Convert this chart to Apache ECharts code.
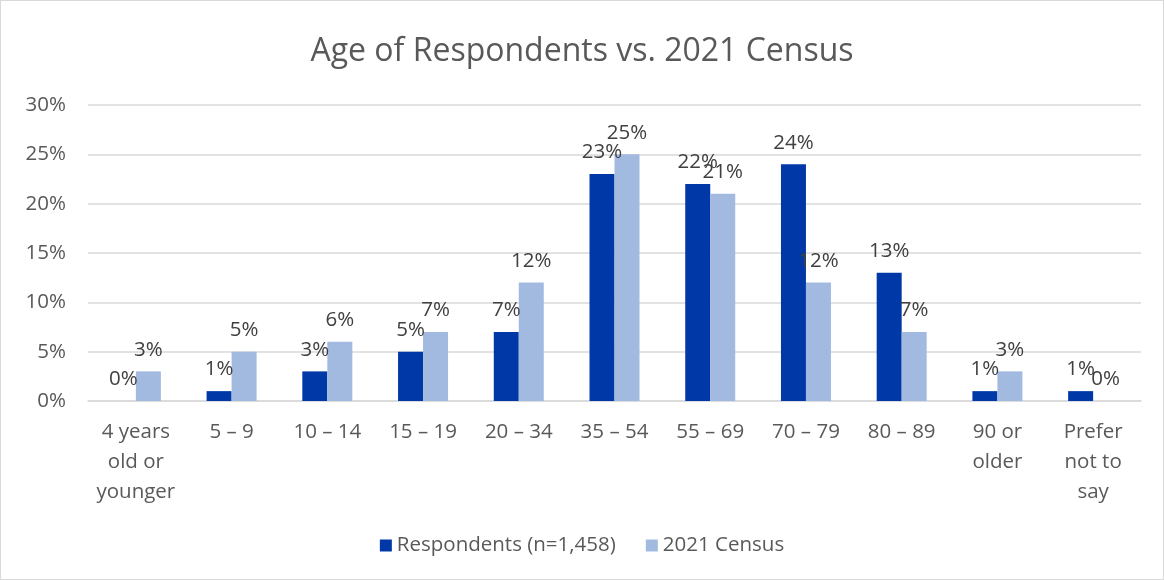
<!DOCTYPE html>
<html>
<head>
<meta charset="utf-8">
<script src="https://cdn.jsdelivr.net/npm/echarts@6/dist/echarts.min.js"></script>
<style>
  html, body { margin: 0; padding: 0; background: #fff; }
  #chart { width: 1164px; height: 580px; box-sizing: border-box; border: 1px solid #d9d9d9; }
</style>
</head>
<body>
<div id="chart"></div>
<script>
// chart data
var categories = ['4 years\nold or\nyounger', '5 – 9', '10 – 14', '15 – 19', '20 – 34', '35 – 54', '55 – 69', '70 – 79', '80 – 89', '90 or\nolder', 'Prefer\nnot to\nsay']
var respondents = [0, 1, 3, 5, 7, 23, 22, 24, 13, 1, 1]
var census = [3, 5, 6, 7, 12, 25, 21, 12, 7, 3, 0]
var seriesNames = ['Respondents (n=1,458)', '2021 Census']

var chart = echarts.init(document.getElementById('chart'))

var labelStyle = {
  show: true,
  position: 'top',
  distance: 11,
  color: '#404040',
  fontSize: 20.5,
  fontFamily: 'Open Sans',
  formatter: '{c}%'
}

chart.setOption({
  animation: false,
  textStyle: { fontFamily: 'Open Sans' },
  title: {
    text: 'Age of Respondents vs. 2021 Census',
    left: 'center',
    top: 30,
    textStyle: {
      color: '#595959',
      fontSize: 32,
      fontWeight: 'normal',
      fontFamily: 'Open Sans'
    }
  },
  legend: {
    bottom: 18,
    left: 'center',
    itemWidth: 12,
    itemHeight: 12,
    itemGap: 30,
    icon: 'rect',
    textStyle: { color: '#595959', fontSize: 20.5, fontFamily: 'Open Sans' },
    data: seriesNames
  },
  grid: {
    left: 87,
    right: 22,
    top: 104,
    bottom: 178
  },
  xAxis: {
    type: 'category',
    data: categories,
    axisTick: { show: false },
    axisLine: { lineStyle: { color: '#d9d9d9', width: 1.5 } },
    axisLabel: {
      color: '#595959',
      fontSize: 20.5,
      lineHeight: 30,
      margin: 16,
      interval: 0
    }
  },
  yAxis: {
    type: 'value',
    min: 0,
    max: 30,
    interval: 5,
    axisLabel: {
      color: '#595959',
      fontSize: 20.5,
      margin: 22,
      formatter: '{value}%'
    },
    splitLine: { lineStyle: { color: '#d9d9d9', width: 1.5 } },
    axisLine: { show: false },
    axisTick: { show: false }
  },
  series: [{
    name: seriesNames[0],
    type: 'bar',
    data: respondents,
    barWidth: 25,
    barGap: '0%',
    itemStyle: { color: '#0038A8' },
    label: labelStyle
  }, {
    name: seriesNames[1],
    type: 'bar',
    data: census,
    barWidth: 25,
    itemStyle: { color: '#A2BAE0' },
    label: labelStyle
  }]
})
</script>
</body>
</html>
